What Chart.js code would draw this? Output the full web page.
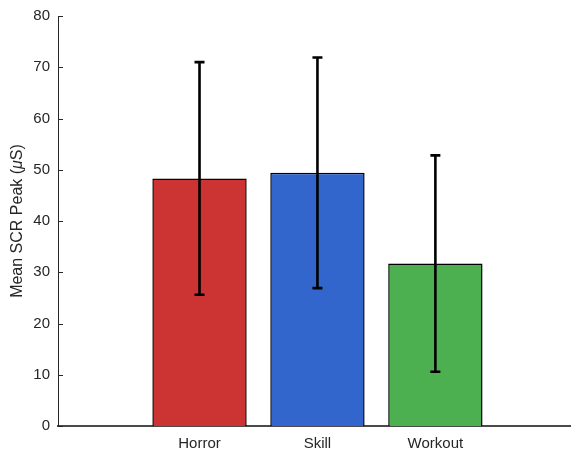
<!DOCTYPE html>
<html>
<head>
<meta charset="utf-8">
<script src="https://cdn.jsdelivr.net/npm/chart.js@4/dist/chart.umd.min.js"></script>
<style>
  html, body { margin: 0; padding: 0; background: #fff; }
  #wrap { width: 571px; height: 453px; }
</style>
</head>
<body>
<div id="wrap"><canvas id="c" width="571" height="453"></canvas></div>
<script>
// Mean skin-conductance response peak per condition, with standard deviation
const categories = ['Horror', 'Skill', 'Workout'];
const positions = [1, 2, 3];
const meanPeak = [48.3, 49.4, 31.7];
const sdPeak = [22.7, 22.5, 21.1];
const yTicks = [0, 10, 20, 30, 40, 50, 60, 70, 80];

const barFill = ['#CC3333', '#3366CC', '#4CAF50'];
const axisColor = '#262626';
const fontFamily = '"Liberation Sans", Arial, Helvetica, sans-serif';

// Error bars drawn from the mean and SD arrays through the chart scales
const errorBars = {
  id: 'errorBars',
  afterDatasetsDraw(chart) {
    const { ctx, scales: { x, y } } = chart;
    ctx.save();
    ctx.strokeStyle = '#000';
    ctx.lineWidth = 2.6;
    ctx.lineCap = 'butt';
    const cap = 5;
    positions.forEach((p, i) => {
      const px = x.getPixelForValue(p);
      const top = y.getPixelForValue(meanPeak[i] + sdPeak[i]);
      const bot = y.getPixelForValue(meanPeak[i] - sdPeak[i]);
      ctx.beginPath();
      ctx.moveTo(px, top);
      ctx.lineTo(px, bot);
      ctx.moveTo(px - cap, top);
      ctx.lineTo(px + cap, top);
      ctx.moveTo(px - cap, bot);
      ctx.lineTo(px + cap, bot);
      ctx.stroke();
    });
    ctx.restore();
  }
};

// Inward tick marks on the y axis and the axis title with an italic mu
const axisDecor = {
  id: 'axisDecor',
  afterDraw(chart) {
    const { ctx, chartArea, scales: { y } } = chart;
    ctx.save();
    ctx.strokeStyle = axisColor;
    ctx.lineWidth = 1;
    yTicks.forEach(v => {
      const py = Math.round(y.getPixelForValue(v)) + 0.5;
      ctx.beginPath();
      ctx.moveTo(chartArea.left, py);
      ctx.lineTo(chartArea.left + 5, py);
      ctx.stroke();
    });

    const parts = [
      { t: 'Mean SCR Peak (', f: '16px ' + fontFamily },
      { t: '\u03BC', f: 'italic 16px ' + fontFamily },
      { t: 'S)', f: '16px ' + fontFamily }
    ];
    let total = 0;
    parts.forEach(p => { ctx.font = p.f; p.w = ctx.measureText(p.t).width; total += p.w; });
    ctx.translate(18, (chartArea.top + chartArea.bottom) / 2);
    ctx.rotate(-Math.PI / 2);
    ctx.fillStyle = axisColor;
    ctx.textBaseline = 'middle';
    ctx.textAlign = 'left';
    let cx = -total / 2;
    parts.forEach(p => { ctx.font = p.f; ctx.fillText(p.t, cx, 0); cx += p.w; });
    ctx.restore();
  }
};

new Chart(document.getElementById('c'), {
  type: 'bar',
  data: {
    datasets: [{
      data: positions.map((p, i) => ({ x: p, y: meanPeak[i] })),
      backgroundColor: barFill,
      borderColor: '#000000',
      borderWidth: 1.5,
      categoryPercentage: 0.8,
      barPercentage: 1.0
    }]
  },
  options: {
    responsive: false,
    animation: false,
    devicePixelRatio: 1,
    layout: { padding: { top: 16, right: 0, bottom: 0, left: 0 } },
    plugins: { legend: { display: false }, tooltip: { enabled: false } },
    scales: {
      x: {
        type: 'linear',
        offset: false,
        min: -0.2,
        max: 4.15,
        afterBuildTicks(scale) { scale.ticks = positions.map(v => ({ value: v })); },
        afterFit(scale) { scale.height = 27; },
        grid: { display: false },
        border: { display: true, color: '#4a4a4a', width: 2 },
        ticks: {
          color: axisColor,
          padding: 1,
          font: { family: fontFamily, size: 15 },
          maxRotation: 0,
          autoSkip: false,
          callback: (v) => categories[positions.indexOf(v)] ?? ''
        }
      },
      y: {
        min: 0,
        max: 80,
        afterBuildTicks(scale) { scale.ticks = yTicks.map(v => ({ value: v })); },
        afterFit(scale) { scale.width = 58; },
        grid: { display: false },
        border: { display: true, color: axisColor, width: 1 },
        ticks: {
          color: axisColor,
          padding: 0,
          font: { family: fontFamily, size: 15 }
        }
      }
    }
  },
  plugins: [errorBars, axisDecor]
});
</script>
</body>
</html>
